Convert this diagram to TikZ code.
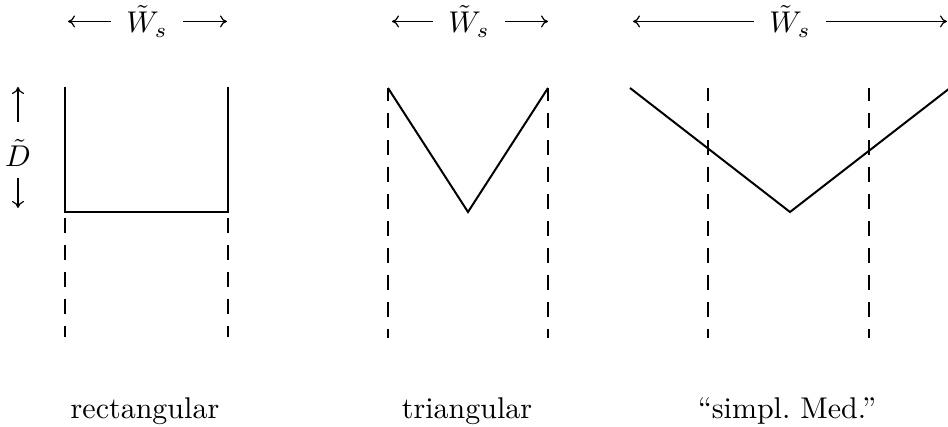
\documentclass[tikz,border=0pt]{standalone}
\usepackage{amsmath}
\usepackage{amssymb}
\usetikzlibrary{arrows.meta,positioning}

\begin{document}
\begin{tikzpicture}[x=1pt,y=-1pt,
    every node/.style={scale=3,inner sep=0pt},
    width/.style={inner xsep=5pt},
    wall/.style={line width=2pt,line join=miter},
    guide/.style={line width=1.8pt,dash pattern=on 15pt off 12pt},
    dim/.style={line width=1.2pt,-{Computer Modern Rightarrow[length=7pt,width=12pt]}}]
  \useasboundingbox (0,0) rectangle (948,427);
  % rectangular
  \coordinate (rtl) at (65,87);
  \coordinate (rbl) at (65,212);
  \coordinate (rbr) at (228,212);
  \coordinate (rtr) at (228,87);
  \draw[wall] (rtl) -- (rbl) -- (rbr) -- (rtr);
  \draw[guide, dash phase=21pt] (rbl) -- (65,337);
  \draw[guide, dash phase=21pt] (rbr) -- (228,337);
  \node[width] (wsrect) [anchor=base] at (147,33) {$\tilde{W}_s$};
  \draw[dim] (wsrect.west) -- (wsrect.west -| 68,0);
  \draw[dim] (wsrect.east) -- (wsrect.east -| 227,0);
  \node (dtil) [anchor=base] at (18,167) {$\tilde{D}$};
  \draw[dim] ([yshift=17pt]dtil.north) -- (18,87);
  \draw[dim] ([yshift=-10pt]dtil.south) -- (18,208);
  \node (lrect) [anchor=base] at (145,419) {rectangular};
  % triangular
  \coordinate (tl) at (388,88);
  \coordinate (tb) at (468,212);
  \coordinate (tr) at (548,88);
  \draw[wall] (tl) -- (tb) -- (tr);
  \draw[guide, dash phase=2pt] (tl) -- (388,338);
  \draw[guide, dash phase=2pt] (tr) -- (548,338);
  \node[width] (wstri) [anchor=base] at (469,33) {$\tilde{W}_s$};
  \draw[dim] (wstri.west) -- (wstri.west -| 392,0);
  \draw[dim] (wstri.east) -- (wstri.east -| 548,0);
  \node (ltri) [anchor=base] at (467,419) {triangular};
  % simplified Med.
  \coordinate (ml) at (630,88);
  \coordinate (mb) at (790,212);
  \coordinate (mr) at (950,88);
  \draw[wall] (ml) -- (mb) -- (mr);
  \draw[guide, dash phase=2pt] (708,88) -- (708,338);
  \draw[guide, dash phase=2pt] (869,88) -- (869,338);
  \node[width] (wsmed) [anchor=base] at (790,33) {$\tilde{W}_s$};
  \draw[dim] (wsmed.west) -- (wsmed.west -| 633,0);
  \draw[dim] (wsmed.east) -- (wsmed.east -| 947,0);
  \node (lmed) [anchor=base] at (787,419) {``simpl.\ Med.''};
\end{tikzpicture}
\end{document}
